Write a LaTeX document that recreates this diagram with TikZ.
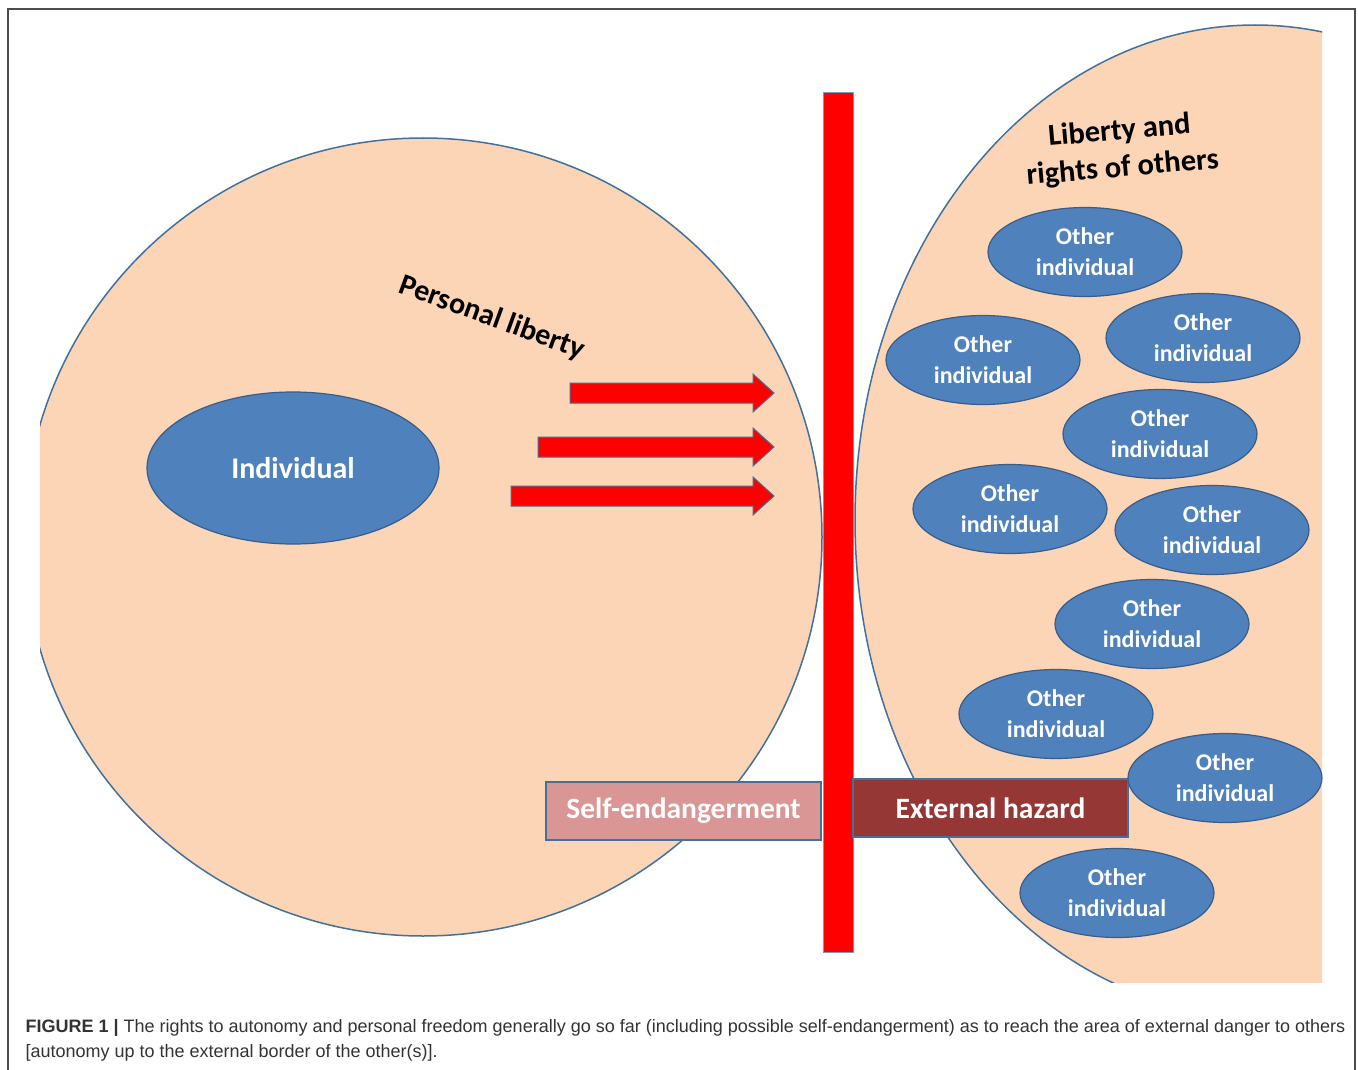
\documentclass[tikz,border=0pt]{standalone}
\usepackage{fontspec}
\setmainfont{Carlito}
\newfontfamily\captionfont{Liberation Sans}
\usetikzlibrary{shapes.geometric}
\definecolor{peach}{HTML}{FBD5B5}
\definecolor{rimblue}{HTML}{41719C}
\definecolor{ovalblue}{HTML}{4F81BD}
\definecolor{ovalrim}{HTML}{385D8A}
\definecolor{selfpink}{HTML}{D99694}
\definecolor{hazardred}{HTML}{953735}
\definecolor{captiongray}{HTML}{333333}

\begin{document}
\begin{tikzpicture}[x=1pt, y=-1pt,
			other/.style={ellipse, draw=ovalrim, line width=1.2pt, fill=ovalblue, text=white, align=center, inner sep=0pt,
				minimum width=194pt, minimum height=89pt, font=\bfseries\fontsize{24}{31}\selectfont},
			riskbox/.style={draw=rimblue, line width=1.2pt, text=white, minimum width=275pt, minimum height=58pt,
				font=\bfseries\fontsize{29.5}{34}\selectfont}]
			\useasboundingbox (0,0) rectangle (1358,1070);
			\draw[gray!60!black, line width=1.5pt] (8,9) rectangle (1355,1100);
			\begin{scope}
				\clip (40,15) rectangle (1322,982);
				\filldraw[fill=peach, draw=rimblue, line width=1.5pt] (423,537) circle[radius=399];
				\filldraw[fill=peach, draw=rimblue, line width=1.5pt] (1255,520) ellipse[x radius=400, y radius=495];
			\end{scope}
			\filldraw[fill=red, draw=rimblue!70, line width=1pt] (823,93) rectangle (853,952);
			\foreach \sx/\ay in {570/393, 538/447, 511/496}
				\filldraw[fill=red, draw=rimblue, line width=1pt] (\sx,\ay-10) -- (753,\ay-10) -- (753,\ay-19) -- (774,\ay)
					-- (753,\ay+19) -- (753,\ay+10) -- (\sx,\ay+10) -- cycle;
			\node[riskbox, fill=selfpink](self) at (683.5,811){Self-endangerment};
			\node[riskbox, fill=hazardred](hazard) at (990.5,808){External hazard};
			\node[other, minimum width=292pt, minimum height=152pt, font=\bfseries\fontsize{30}{36}\selectfont](individual) at (293,468){Individual};
			\foreach \cx/\cy [count=\i] in {1085/252, 983/360, 1203/338, 1160/434, 1010/509, 1212/530, 1152/624, 1056/714, 1225/778, 1117/893}
				\node[other](other\i) at (\cx,\cy){Other\\individual};
			\node[rotate=-20, font=\bfseries\fontsize{30}{34}\selectfont](personal) at (492,318){Personal liberty};
			\node[rotate=5, align=center, font=\bfseries\fontsize{30.5}{37}\selectfont](others) at (1121,150){Liberty and\\rights of others};
			\node[anchor=base west, text=captiongray, font=\captionfont\fontsize{18}{25}\selectfont](caption) at (22,1032)
				{\textbf{FIGURE 1 |} The rights to autonomy and personal freedom generally go so far (including possible self-endangerment) as to reach the area of external danger to others};
			\node[anchor=base west, text=captiongray, font=\captionfont\fontsize{18}{25}\selectfont](captionend) at (22,1057)
				{[autonomy up to the external border of the other(s)].};
	\end{tikzpicture}
\end{document}
